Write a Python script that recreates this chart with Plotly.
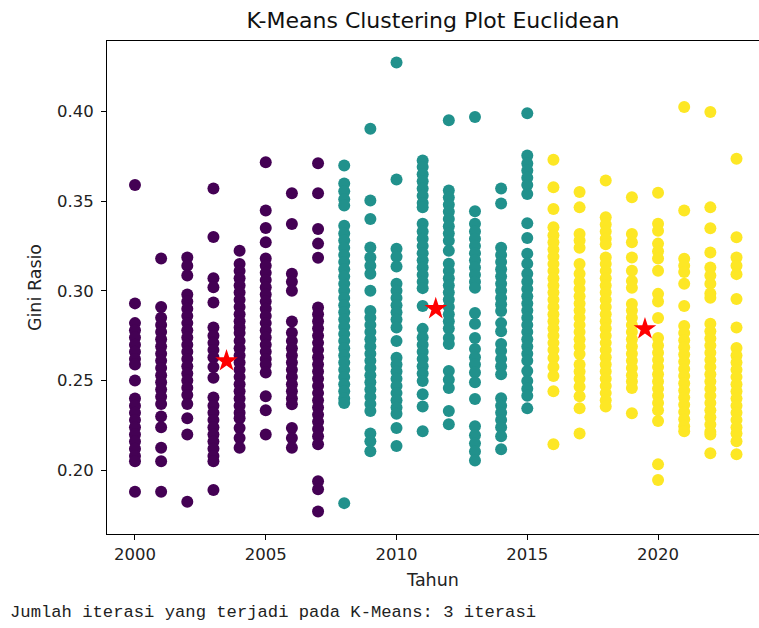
import plotly.graph_objects as go

# ---------------- data ----------------
years = [2000, 2001, 2002, 2003, 2004, 2005, 2006, 2007, 2008, 2009, 2010, 2011,
         2012, 2013, 2014, 2015, 2016, 2017, 2018, 2019, 2020, 2021, 2022, 2023]
year_cluster = [0, 0, 0, 0, 0, 0, 0, 0, 1, 1, 1, 1, 1, 1, 1, 1, 2, 2, 2, 2, 2, 2, 2, 2]

gini_2000 = [0.359, 0.293, 0.282, 0.278, 0.274, 0.270, 0.266, 0.262, 0.259, 0.250, 0.240,
             0.236, 0.232, 0.228, 0.224, 0.220, 0.216, 0.212, 0.208, 0.205, 0.188]
gini_2001 = [0.318, 0.291, 0.285, 0.281, 0.277, 0.273, 0.269, 0.265, 0.261, 0.257, 0.253,
             0.249, 0.245, 0.241, 0.237, 0.230, 0.224, 0.2125, 0.205, 0.188]
gini_2002 = [0.3186, 0.314, 0.3085, 0.298, 0.294, 0.290, 0.286, 0.282, 0.278, 0.274, 0.270,
             0.266, 0.262, 0.258, 0.254, 0.250, 0.246, 0.242, 0.237, 0.229, 0.220, 0.1825]
gini_2003 = [0.357, 0.330, 0.307, 0.302, 0.2935, 0.2795, 0.275, 0.271, 0.267, 0.263, 0.2575,
             0.2515, 0.2405, 0.236, 0.232, 0.228, 0.224, 0.220, 0.216, 0.212, 0.208, 0.205, 0.189]
gini_2004 = [0.3223, 0.315, 0.311, 0.307, 0.303, 0.299, 0.295, 0.291, 0.287, 0.283, 0.2795,
             0.2765, 0.272, 0.268, 0.264, 0.260, 0.256, 0.252, 0.248, 0.244, 0.240, 0.236,
             0.232, 0.229, 0.2235, 0.218, 0.2125]
gini_2005 = [0.3717, 0.3447, 0.335, 0.327, 0.318, 0.314, 0.310, 0.306, 0.302, 0.298, 0.294,
             0.290, 0.286, 0.282, 0.278, 0.274, 0.270, 0.266, 0.262, 0.259, 0.2545, 0.2413,
             0.2335, 0.220]
gini_2006 = [0.3544, 0.3372, 0.3095, 0.305, 0.300, 0.2829, 0.2767, 0.272, 0.268, 0.264, 0.260,
             0.256, 0.252, 0.248, 0.244, 0.240, 0.2368, 0.2236, 0.218, 0.2125]
gini_2007 = [0.3711, 0.3544, 0.3345, 0.3263, 0.3184, 0.2907, 0.287, 0.283, 0.279, 0.275, 0.271,
             0.267, 0.263, 0.259, 0.255, 0.251, 0.247, 0.243, 0.239, 0.235, 0.231, 0.227,
             0.223, 0.219, 0.2145, 0.1939, 0.1894, 0.1771]
gini_2008 = [0.3698, 0.3598, 0.3555, 0.351, 0.3475, 0.3363, 0.332, 0.328, 0.324, 0.320, 0.316,
             0.312, 0.308, 0.304, 0.300, 0.296, 0.292, 0.288, 0.284, 0.280, 0.276, 0.272,
             0.268, 0.264, 0.260, 0.256, 0.252, 0.248, 0.244, 0.240, 0.2375, 0.1817]
gini_2009 = [0.3903, 0.3503, 0.340, 0.3242, 0.3186, 0.314, 0.3095, 0.300, 0.2888, 0.285, 0.281,
             0.277, 0.273, 0.269, 0.265, 0.261, 0.257, 0.253, 0.249, 0.245, 0.241, 0.237,
             0.233, 0.2205, 0.2162, 0.2106]
gini_2010 = [0.4272, 0.362, 0.3235, 0.319, 0.3135, 0.304, 0.300, 0.296, 0.292, 0.288, 0.284,
             0.2795, 0.2721, 0.2627, 0.259, 0.255, 0.251, 0.247, 0.243, 0.239, 0.235, 0.2315,
             0.2235, 0.2135]
gini_2011 = [0.3726, 0.369, 0.365, 0.361, 0.357, 0.353, 0.349, 0.3465, 0.3374, 0.333, 0.329,
             0.325, 0.321, 0.317, 0.313, 0.309, 0.305, 0.3015, 0.2916, 0.2788, 0.274, 0.270,
             0.266, 0.262, 0.258, 0.254, 0.2497, 0.2424, 0.2355, 0.2218]
gini_2012 = [0.395, 0.3559, 0.352, 0.348, 0.344, 0.340, 0.336, 0.332, 0.3279, 0.3223, 0.3151,
             0.311, 0.307, 0.303, 0.299, 0.295, 0.291, 0.287, 0.283, 0.279, 0.2737, 0.2704,
             0.2553, 0.2505, 0.2458, 0.233, 0.2257]
gini_2013 = [0.3968, 0.3443, 0.3374, 0.333, 0.329, 0.325, 0.321, 0.317, 0.313, 0.309, 0.305,
             0.3017, 0.2877, 0.2816, 0.2737, 0.2676, 0.263, 0.259, 0.2545, 0.249, 0.2397,
             0.2246, 0.2195, 0.215, 0.2105, 0.2055]
gini_2014 = [0.357, 0.3486, 0.324, 0.320, 0.316, 0.312, 0.308, 0.304, 0.300, 0.296, 0.2925,
             0.2888, 0.282, 0.2775, 0.2704, 0.2665, 0.262, 0.258, 0.2535, 0.2402, 0.236,
             0.232, 0.228, 0.224, 0.219, 0.2117]
gini_2015 = [0.399, 0.3754, 0.371, 0.367, 0.363, 0.359, 0.354, 0.3376, 0.3294, 0.3207, 0.3151,
             0.3095, 0.305, 0.301, 0.297, 0.293, 0.289, 0.285, 0.281, 0.277, 0.273, 0.269,
             0.265, 0.261, 0.2553, 0.2497, 0.2455, 0.2415, 0.2345]
gini_2016 = [0.373, 0.3577, 0.3456, 0.3354, 0.331, 0.327, 0.323, 0.319, 0.315, 0.311, 0.307,
             0.303, 0.299, 0.295, 0.291, 0.287, 0.283, 0.279, 0.275, 0.271, 0.267, 0.2626,
             0.2575, 0.2525, 0.2441, 0.2145]
gini_2017 = [0.355, 0.3465, 0.3317, 0.328, 0.324, 0.3149, 0.3095, 0.305, 0.301, 0.297, 0.293,
             0.289, 0.285, 0.281, 0.277, 0.273, 0.269, 0.2648, 0.259, 0.255, 0.251, 0.2465,
             0.2413, 0.2346, 0.2205]
gini_2018 = [0.3615, 0.341, 0.337, 0.333, 0.329, 0.326, 0.3186, 0.315, 0.311, 0.307, 0.303,
             0.299, 0.295, 0.291, 0.287, 0.283, 0.279, 0.275, 0.271, 0.267, 0.263, 0.259,
             0.255, 0.251, 0.247, 0.243, 0.239, 0.2355]
gini_2019 = [0.3521, 0.3317, 0.327, 0.3186, 0.3112, 0.3055, 0.3017, 0.2927, 0.289, 0.285,
             0.281, 0.277, 0.273, 0.269, 0.265, 0.261, 0.257, 0.253, 0.2495, 0.2458, 0.2318]
gini_2020 = [0.3546, 0.3374, 0.3335, 0.3263, 0.322, 0.318, 0.3112, 0.2983, 0.294, 0.2849,
             0.2737, 0.2695, 0.2655, 0.2615, 0.2575, 0.2535, 0.2495, 0.2455, 0.2415, 0.2375,
             0.2335, 0.2274, 0.2033, 0.1946]
gini_2021 = [0.4024, 0.3447, 0.3179, 0.314, 0.3105, 0.3039, 0.2916, 0.2804, 0.2765, 0.2725,
             0.2685, 0.2645, 0.2605, 0.2565, 0.2525, 0.2485, 0.2445, 0.2405, 0.2365, 0.2325,
             0.2285, 0.2245, 0.2218]
gini_2022 = [0.3996, 0.3465, 0.3349, 0.3214, 0.313, 0.3085, 0.304, 0.2985, 0.2961, 0.2816,
             0.2775, 0.2735, 0.2695, 0.2655, 0.2615, 0.2575, 0.2535, 0.2495, 0.2455, 0.2415,
             0.2375, 0.2335, 0.2295, 0.2255, 0.2215, 0.2199, 0.2095]
gini_2023 = [0.3736, 0.3298, 0.3186, 0.314, 0.3093, 0.2955, 0.2795, 0.2682, 0.264, 0.260,
             0.256, 0.252, 0.248, 0.244, 0.240, 0.236, 0.232, 0.228, 0.224, 0.2205, 0.2162,
             0.2089]

gini_by_year = [gini_2000, gini_2001, gini_2002, gini_2003, gini_2004, gini_2005, gini_2006,
                gini_2007, gini_2008, gini_2009, gini_2010, gini_2011, gini_2012, gini_2013,
                gini_2014, gini_2015, gini_2016, gini_2017, gini_2018, gini_2019, gini_2020,
                gini_2021, gini_2022, gini_2023]

centroid_tahun = [2003.5, 2011.5, 2019.5]
centroid_gini = [0.2609, 0.2900, 0.2788]

cluster_colors = ["#440154", "#21918c", "#fde725"]
x_ticks = [2000, 2005, 2010, 2015, 2020]
y_ticks = [0.20, 0.25, 0.30, 0.35, 0.40]

# ---------------- figure ----------------
xs, ys, cs = [], [], []
for yr, cl, vals in zip(years, year_cluster, gini_by_year):
    for v in vals:
        xs.append(yr)
        ys.append(v)
        cs.append(cluster_colors[cl])

fig = go.Figure()
fig.add_trace(go.Scatter(
    x=xs, y=ys, mode="markers",
    marker=dict(size=12, color=cs, line=dict(width=0)),
    showlegend=False, hoverinfo="x+y"))
fig.add_trace(go.Scatter(
    x=centroid_tahun, y=centroid_gini, mode="markers",
    marker=dict(symbol="star", size=17, color="red", line=dict(width=0)),
    showlegend=False))

W, H = 759, 628
L, R, T, B = 107, 0, 41, 94
plot_h = H - T - B
plot_w = W - L - R

axis_common = dict(
    showline=True, mirror=True, linecolor="black", linewidth=1,
    ticks="outside", ticklen=5, tickwidth=1, tickcolor="black",
    showgrid=False, zeroline=False,
    tickfont=dict(family="DejaVu Sans", size=16.5, color="#222222"),
)

fig.update_layout(
    width=W, height=H,
    margin=dict(l=L, r=R, t=T, b=B, autoexpand=False),
    paper_bgcolor="white", plot_bgcolor="white",
    title=dict(text="K-Means Clustering Plot Euclidean",
               font=dict(family="DejaVu Sans", size=22, color="#111111"),
               x=0.5, xref="paper", xanchor="center",
               y=1 - 20 / H, yref="container", yanchor="middle"),
    xaxis=dict(range=[1998.93, 2023.86], tickvals=x_ticks,
               ticktext=[str(t) for t in x_ticks],
               title=dict(text="Tahun", font=dict(family="DejaVu Sans", size=17.5, color="#222222"),
                          standoff=10),
               **axis_common),
    yaxis=dict(range=[0.1645, 0.4392], tickvals=y_ticks,
               ticktext=["%.2f" % t for t in y_ticks],
               ticklabelstandoff=4,
               title=dict(text="Gini Rasio", font=dict(family="DejaVu Sans", size=17.5, color="#222222"),
                          standoff=10),
               **axis_common),
)

fig.add_annotation(
    text="Jumlah iterasi yang terjadi pada K-Means: 3 iterasi",
    xref="paper", yref="paper",
    x=(8 - L) / plot_w, y=-(612 - (H - B)) / plot_h,
    xanchor="left", yanchor="middle", showarrow=False,
    font=dict(family="Liberation Mono", size=17.2, color="#222222"))

fig.write_html(
    "out.html",
    config={"displayModeBar": False},
    post_script="document.body.style.margin='0';document.body.style.overflow='hidden';")
